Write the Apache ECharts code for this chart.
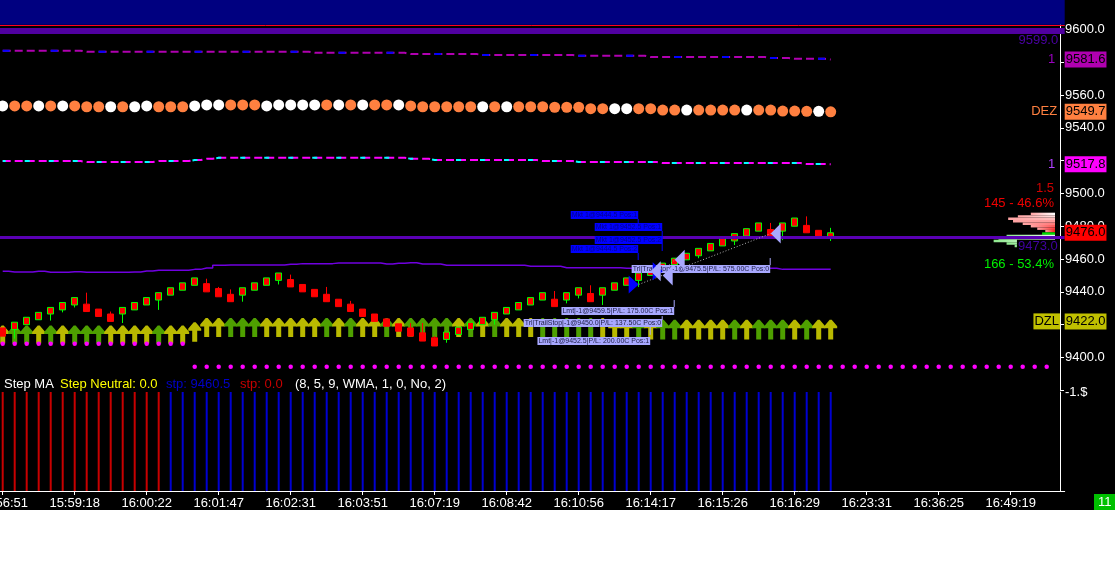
<!DOCTYPE html>
<html><head><meta charset="utf-8">
<script src="https://cdn.jsdelivr.net/npm/echarts@6/dist/echarts.min.js"></script>
<style>html,body{margin:0;padding:0;background:#fff;}#c{width:1115px;height:510px;}</style>
</head><body><div id="c"></div>
<script>
// ---------------- data ----------------
const timeLabels = ['15:56:51','15:59:18','16:00:22','16:01:47','16:02:31','16:03:51','16:07:19','16:08:42','16:10:56','16:14:17','16:15:26','16:16:29','16:23:31','16:36:25','16:49:19'];
// [open, close, low, high]
const candles = [
[9418,9413,9413,9418],[9417,9421.5,9411.5,9421.5],[9420,9424.5,9420,9424.5],[9423,9427.5,9423,9427.5],
[9426.5,9430.5,9422.5,9430.5],[9429,9433.5,9427.5,9433.5],[9432,9436.5,9430.5,9436.5],[9432.5,9428,9428,9439.5],
[9429.5,9425,9425,9429.5],[9426.5,9422,9422,9428],[9426.5,9430.5,9421,9430.5],[9429,9433.5,9429,9433.5],
[9432,9436.5,9432,9436.5],[9435,9439.5,9429,9439.5],[9438,9442.5,9438,9442.5],[9441,9445.5,9441,9445.5],
[9444,9448.5,9444,9448.5],[9445,9440,9440,9448],[9442,9437,9437,9443],[9438.5,9434,9434,9441.5],
[9438,9442.5,9434,9442.5],[9441,9445.5,9441,9445.5],[9444,9448.5,9444,9448.5],[9447,9451.5,9444.5,9451.5],
[9447.5,9443,9443,9450.5],[9444.5,9440,9440,9444.5],[9441.5,9437,9437,9441.5],[9438.5,9434,9434,9443],
[9435.5,9431,9431,9435.5],[9432.5,9428,9428,9434.5],[9429.5,9425,9425,9429.5],[9426.5,9422,9422,9426.5],
[9423.5,9419,9419,9423.5],[9420.5,9416,9416,9420.5],[9418,9413,9413,9421],[9415,9410,9410,9421],
[9412,9407,9407,9413],[9411,9415.5,9409,9415.5],[9414,9418.5,9414,9418.5],[9417,9421.5,9417,9421.5],
[9420,9424.5,9420,9424.5],[9423,9427.5,9420,9427.5],[9426.5,9430.5,9426.5,9430.5],[9429,9433.5,9429,9433.5],
[9432,9436.5,9432,9436.5],[9435,9439.5,9435,9439.5],[9435.5,9431,9431,9440.5],[9435,9439.5,9433,9439.5],
[9438,9442.5,9436,9442.5],[9439,9434,9434,9444],[9438,9442.5,9432,9442.5],[9441,9445.5,9441,9445.5],
[9444,9448.5,9444,9448.5],[9447,9451.5,9443,9451.5],[9450,9454.5,9450,9454.5],[9453,9457.5,9453,9457.5],
[9456.5,9460.5,9456.5,9460.5],[9459.5,9463.5,9459.5,9463.5],[9462,9466.5,9460.5,9466.5],[9465,9469.5,9465,9469.5],
[9468,9472.5,9468,9472.5],[9471,9475.5,9468.5,9475.5],[9474,9478.5,9474,9478.5],[9477,9482,9477,9482],
[9478,9473.5,9473.5,9482],[9477,9482,9471.5,9482],[9480,9485,9480,9485],[9480.5,9476,9476,9486],
[9477.5,9473.5,9473.5,9477.5],[9472.5,9476,9471,9479]
];
const stepLine = [9452.6,9452.1,9452.1,9452.6,9451.9,9451.9,9452.3,9451.9,9451.9,9451.9,9451.9,9452.1,9452.7,9453.1,9453.1,9453.1,9453.7,9454.5,9456.2,
9456.4,9456.4,9456.4,9456.4,9456.4,9456.8,9457.2,9457.2,9457.2,9457.6,9457.6,9457.6,9457.6,9457.0,9457.4,9457.8,9457.0,9457.0,
9456.2,9456.2,9456.2,9456.2,9456.2,9456.2,9456.2,9455.6,9455.6,9455.6,9454.7,9454.7,9454.7,9454.7,9454.7,
9454.4,9454.4,9454.4,9454.4,9454.4,9454.4,9454.4,9454.4,9454.4,9454.4,9454.4,9454.4,9454.4,9453.7,9453.7,9453.7,9453.7,9453.7];
const upperBand = [9587.0,9587.0,9587.0,9587.0,9587.0,9587.0,9587.0,
9586.3,9586.3,9586.3,9586.3,9586.3,9586.3,9586.3,9586.3,9586.3,9586.3,9586.3,9586.3,9586.3,9586.3,9586.3,9586.3,9586.3,9586.3,9586.3,
9585.7,9585.7,9585.7,9585.7,9585.7,9585.7,9585.7,9585.7,
9584.9,9584.9,9584.9,9584.9,9584.9,9584.9,
9584.3,9584.3,9584.3,9584.3,9584.3,9584.3,9584.3,9584.3,
9583.9,9583.9,9583.9,9583.9,9583.9,9583.9,
9583.1,9583.1,9583.1,9583.1,9583.1,9583.1,9583.1,9583.1,9583.1,9583.1,
9582.5,9582.5,9582.0,9582.0,9582.0,9581.6];
const lowerBand = [9519.7,9519.7,9519.7,9519.7,9519.7,9519.7,9519.7,
9519.1,9519.1,9519.1,9519.1,9519.1,9519.1,9519.7,9519.7,9519.7,9520.3,9521.1,
9521.7,9521.7,9521.7,9521.7,9521.7,9521.7,9521.7,9521.7,9521.7,9521.7,9521.7,9521.7,9521.7,9521.7,9521.7,9521.7,
9521.1,9521.1,9520.3,9520.3,9520.3,9520.3,9520.3,9520.3,9520.3,9520.3,9520.3,9519.7,9519.7,9519.7,
9519.1,9519.1,9519.1,9519.1,9519.1,9519.1,9519.1,
9518.5,9518.5,9518.5,9518.5,9518.5,9518.5,9518.5,9518.5,9518.5,9518.5,9518.5,9518.5,9517.9,9517.9,9517.8];
const dezDots = [9553.3,9553.3,9553.3,9553.3,9553.3,9553.3,9553.3,9552.8,9552.8,9552.8,9552.8,9552.8,9553.3,9552.8,9552.8,9552.8,9553.3,
9553.9,9553.9,9553.9,9553.9,9553.9,9553.3,9553.9,9553.9,9553.9,9553.9,9553.9,9553.9,9553.9,9553.9,9553.9,9553.9,9553.9,
9553.3,9552.8,9552.8,9552.8,9552.8,9552.8,9552.8,9552.8,9552.8,9552.8,9552.8,9552.8,9552.5,9552.5,9552.5,
9551.6,9551.6,9551.6,9551.6,9551.6,9551.6,9550.8,9550.8,9550.8,9550.8,9550.8,9550.8,9550.8,9550.8,9550.8,9550.8,
9550.2,9550.2,9550.0,9550.0,9549.7];
const dezWhite = [1,0,0,1,0,1,0,0,0,1,0,1,1,0,0,0,1,1,1,0,0,0,1,1,1,1,1,0,1,0,1,0,0,1,
0,0,0,0,0,0,1,0,1,0,0,0,0,0,0,0,0,1,1,0,0,0,0,1,0,0,0,0,1,0,0,0,0,0,1,0];
const arrowTop = [9419.5,9419.5,9419.5,9419.5,9419.5,9419.5,9419.5,9419.5,9419.5,9419.5,9419.5,9419.5,9419.5,9419.5,9419.5,9419.5,9421.4,
9424,9424,9424,9424,9424,9424,9424,9424,9424,9424,9424,9424,9424,9424,9424,9424,9424,
9424,9424,9424,9424,9424,9424,9424,9424,9424,9424,9424,9424,9424,9424,9424,9424,9424,
9423,9423,9423,9423,9423,9423,9423,9423,9423,9423,9423,9423,9423,9423,9423,9423,9423,9423,9423];
const arrowBottom = [9408.5,9408.5,9408.5,9408.5,9408.5,9408.5,9408.5,9408.5,9408.5,9408.5,9408.5,9408.5,9408.5,9408.5,9408.5,9408.5,9409.6,
9412.5,9412.5,9412.5,9412.5,9412.5,9412.5,9412.5,9412.5,9412.5,9412.5,9412.5,9412.5,9412.5,9412.5,9412.5,9412.5,9412.5,
9412.5,9412.5,9412.5,9412.5,9412.5,9412.5,9412.5,9412.5,9412.5,9412.5,9412.5,9412.5,9412.5,9412.5,9412.5,9412.5,9412.5,
9411,9411,9411,9411,9411,9411,9411,9411,9411,9411,9411,9411,9411,9411,9411,9411,9411,9411,9411];
const arrowGreen = [0,1,1,0,1,0,1,1,1,0,0,0,0,1,0,0,0,0,0,1,1,1,0,0,0,0,0,1,0,1,0,0,1,0,
1,1,1,1,0,1,0,1,0,0,0,1,1,1,1,1,0,0,0,1,0,1,1,0,0,0,0,1,0,1,1,1,0,1,0,0];
const stopDots = [9408.3,9408.3,9408.3,9408.3,9408.3,9408.3,9408.3,9408.3,9408.3,9408.3,9408.3,9408.3,9408.3,9408.3,9408.3,9408.3,
9394.4,9394.4,9394.4,9394.4,9394.4,9394.4,9394.4,9394.4,9394.4,9394.4,9394.4,9394.4,
9394.4,9394.4,9394.4,9394.4,9394.4,9394.4,9394.4,9394.4,9394.4,9394.4,9394.4,9394.4,
9394.4,9394.4,9394.4,9394.4,9394.4,9394.4,9394.4,9394.4,9394.4,9394.4,9394.4,9394.4,
9394.4,9394.4,9394.4,9394.4,9394.4,9394.4,9394.4,9394.4,9394.4,9394.4,9394.4,9394.4,
9394.4,9394.4,9394.4,9394.4,9394.4,9394.4,9394.4,9394.4,9394.4,9394.4,9394.4,9394.4,
9394.4,9394.4,9394.4,9394.4,9394.4,9394.4,9394.4,9394.4,9394.4,9394.4,9394.4,9394.4];
const stepDir = [-1,-1,-1,-1,-1,-1,-1,-1,-1,-1,-1,-1,-1,-1,
1,1,1,1,1,1,1,1,1,1,1,1,1,1,1,1,1,1,1,1,1,1,1,1,1,1,1,1,1,1,1,1,1,1,1,1,1,1,1,1,1,1,1,1,1,1,1,1,1,1,1,1,1,1,1,1];
const entries = [[53,9444.5],[55,9452.5]];
const exits = [[54,9452.5],[55,9450.0],[56,9459.5],[64,9475.5]];
const tradeLines = [[[53,9444.5],[64,9475.5]],[[55,9452.5],[56,9459.5]]];
const orderText = ['Mkt 1@9444.5 Pos:1','Mkt 1@9452.5 Pos:1','Mkt 1@9452.5 Pos:2','Mkt 1@9444.5 Pos:2',
'Trl|TrailStop|-1@9475.5|P/L: 575.00C Pos:0','Lmt|-1@9459.5|P/L: 175.00C Pos:1',
'Trl|TrailStop|-1@9450.0|P/L: 137.50C Pos:0','Lmt|-1@9452.5|P/L: 200.00C Pos:1'];
const orderBar = [53,55,55,53,64,56,55,54];
const orderPrice = [9486.8,9479.5,9471.6,9466.1,9453.9,9428.3,9421.0,9410.0];
const orderKind = ['entry','entry','entry','entry','exit','exit','exit','exit'];
const connectors = [[53,9484.4,9482.0,'entry'],[55,9477.1,9464.9,'entry'],[53,9463.7,9459.4,'entry'],
[64,9460.6,9456.3,'exit'],[56,9435.0,9430.8,'exit'],[55,9425.2,9422.8,'exit'],[54,9418.7,9413.8,'exit']];
const depthStep = 1.5;
const askPrices = [9477.0,9478.5,9480.0,9481.5,9483.0,9484.5,9486.0,9487.5];
const askSizes = [6,11,15,20,26,29,23,15];
const bidPrices = [9475.5,9474.0,9472.5,9471.0,9469.5,9468.0];
const bidSizes = [8,30,35,38,30,25];
const tagValues = [9581.6,9549.7,9517.8,9476.0,9422.0];
const tagNames = ['1','DEZ','1','','DZL'];
const navyFrom = 9602.8, redLevel = 9602.6, bandLevel = 9599.0, positionLevel = 9473.0;
const stepHeader = ['Step MA','Step Neutral: 0.0','stp: 9460.5','stp: 0.0','(8, 5, 9, WMA, 1, 0, No, 2)'];
const lowerAxisText = '-1.$';
const barsLeft = '11';

// ---------------- chart ----------------
const FONT = 'Liberation Sans';
const N = 89;
const cats = Array.from({length: N}, (_, k) => String(k));
const GL = -3.3, GW = 1068, AXOFF = -4.7;
const PTOP = -3.5, PH = 393.8;
const hiddenTicks = [9380, 9420, 9520, 9580];
const CLEAR = 'rgba(0,0,0,0)';

function mix(c1, c2, t) {
  const a = parseInt(c1.slice(1), 16), b = parseInt(c2.slice(1), 16);
  const ch = s => Math.round(((a >> s) & 255) * (1 - t) + ((b >> s) & 255) * t);
  return 'rgb(' + ch(16) + ',' + ch(8) + ',' + ch(0) + ')';
}

const tagBg = ['#b000b0', '#ff8040', '#ff00ff', '#ff0000', '#c0c000'];
const nameColor = ['#9a00c0', '#ff8040', '#b040ff', '#000', '#000'];
const nameDist = [9.5, 7.5, 9.5, 0, 4.7];

const markLines = [
  {yAxis: redLevel, lineStyle: {color: '#ff0020', width: 1, type: 'solid'}, label: {show: false}},
  {yAxis: bandLevel, lineStyle: {color: '#5000a0', width: 6, type: 'solid'},
   label: {show: true, position: 'insideEndBottom', distance: [6.5, 2.5], formatter: bandLevel.toFixed(1), color: '#4c00a8', fontSize: 13, fontFamily: FONT}},
  {yAxis: positionLevel, lineStyle: {color: '#5a00b4', width: 3, type: 'solid'},
   label: {show: true, position: 'insideEndBottom', distance: [6, 2], formatter: positionLevel.toFixed(1), color: '#4000a0', backgroundColor: '#000', padding: [0, 1], lineHeight: 13, fontSize: 13, fontFamily: FONT}}
];
tagValues.forEach((v, k) => {
  markLines.push({yAxis: v, lineStyle: {color: CLEAR, width: 1, type: 'solid', opacity: 1},
    label: {show: true, opacity: 1, position: 'end', distance: [0, 0], formatter: v.toFixed(1), color: '#000', backgroundColor: tagBg[k],
      padding: [1, 1, 1, 1], lineHeight: 14, fontSize: 13, fontFamily: FONT}});
  if (tagNames[k]) {
    const boxed = tagNames[k] === 'DZL';
    markLines.push({yAxis: v, lineStyle: {color: CLEAR, width: 1, type: 'solid', opacity: 1},
      label: Object.assign({show: true, opacity: 1, position: 'insideEnd', distance: [nameDist[k], 0], formatter: tagNames[k],
        color: nameColor[k], fontSize: 13, fontFamily: FONT},
        boxed ? {backgroundColor: tagBg[k], padding: [1, 1, 1, 1], lineHeight: 14} : {})});
  }
});

const askTotal = askSizes.reduce((a, b) => a + b, 0);
const bidTotal = bidSizes.reduce((a, b) => a + b, 0);
const askPct = (askTotal / (askTotal + bidTotal) * 100).toFixed(1);
const bidPct = (bidTotal / (askTotal + bidTotal) * 100).toFixed(1);

const depthData = askPrices.map((p, k) => [p, askSizes[k], 0, k]).concat(bidPrices.map((p, k) => [p, bidSizes[k], 1, k]));

const headerLeft = [4, 60, 166, 240, 295];
const headerColor = ['#ffffff', '#ffff00', '#0000c8', '#c80000', '#ffffff'];

const option = {
  animation: false,
  backgroundColor: '#000',
  textStyle: {fontFamily: FONT},
  title: stepHeader.map((t, k) => ({text: t, left: headerLeft[k], top: 378, padding: 0,
    textStyle: {color: headerColor[k], fontSize: 13, fontWeight: 'normal', fontFamily: FONT}})),
  grid: [
    {left: GL, width: GW, top: PTOP, height: PH, outerBoundsMode: 'none', containLabel: false},
    {left: GL, width: GW, top: 392, height: 99, outerBoundsMode: 'none', containLabel: false},
    {left: 900, width: 155, top: PTOP, height: PH, outerBoundsMode: 'none', containLabel: false}
  ],
  xAxis: [
    {type: 'category', gridIndex: 0, data: cats, boundaryGap: true, show: false},
    {type: 'category', gridIndex: 1, data: cats, boundaryGap: true,
      axisLine: {show: true, lineStyle: {color: '#fff', width: 1}},
      axisTick: {show: true, alignWithLabel: true, length: 4, interval: (i) => i % 6 === 0, lineStyle: {color: '#fff'}},
      axisLabel: {show: true, interval: (i) => i % 6 === 0, formatter: (v, i) => (i % 6 === 0 ? (timeLabels[i / 6] || '') : ''),
        color: '#fff', fontSize: 13, margin: 6, fontFamily: FONT},
      splitLine: {show: false}},
    {type: 'value', gridIndex: 2, inverse: true, min: 0, max: 96, show: false}
  ],
  yAxis: [
    {type: 'value', gridIndex: 0, position: 'right', offset: AXOFF, min: 9380, max: 9620, interval: 20,
      axisLine: {show: true, lineStyle: {color: '#fff', width: 1}},
      axisTick: {show: true, length: 4, lineStyle: {color: '#fff'}},
      axisLabel: {color: '#fff', fontSize: 13, margin: 5, fontFamily: FONT,
        formatter: (v) => (hiddenTicks.indexOf(Math.round(v)) >= 0 ? '' : v.toFixed(1))},
      splitLine: {show: false}},
    {type: 'value', gridIndex: 1, position: 'right', offset: AXOFF, min: 0, max: 1, interval: 1,
      axisLine: {show: true, lineStyle: {color: '#fff', width: 1}},
      axisTick: {show: false},
      axisLabel: {color: '#fff', fontSize: 13, margin: 5, fontFamily: FONT, formatter: (v) => (v === 1 ? lowerAxisText : '')},
      splitLine: {show: false}},
    {type: 'value', gridIndex: 2, min: 9380, max: 9620, show: false}
  ],
  series: [
    // upper dashed band
    {type: 'line', xAxisIndex: 0, yAxisIndex: 0, data: upperBand, step: 'middle', showSymbol: false, z: 2,
      lineStyle: {color: '#b000b0', width: 2, type: [8, 4]}},
    {type: 'line', xAxisIndex: 0, yAxisIndex: 0, data: upperBand, step: 'middle', showSymbol: false, z: 2,
      lineStyle: {color: '#0000ff', width: 2, type: [7, 41], dashOffset: 0}},
    // lower dashed band
    {type: 'line', xAxisIndex: 0, yAxisIndex: 0, data: lowerBand, step: 'middle', showSymbol: false, z: 2,
      lineStyle: {color: '#ff00ff', width: 2, type: [8, 4]}},
    {type: 'line', xAxisIndex: 0, yAxisIndex: 0, data: lowerBand, step: 'middle', showSymbol: false, z: 2,
      lineStyle: {color: '#00ffff', width: 2, type: [5, 19], dashOffset: 2}},
    // DEZ dots
    {type: 'scatter', xAxisIndex: 0, yAxisIndex: 0, data: dezDots.map((v, i) => [i, v]), symbol: 'circle', symbolSize: 11, z: 2,
      itemStyle: {opacity: 1, color: (p) => (dezWhite[p.dataIndex] ? '#ffffff' : '#ff8040')}},
    // thin purple step line + levels
    {type: 'line', xAxisIndex: 0, yAxisIndex: 0, data: stepLine, step: 'middle', showSymbol: false, z: 3,
      lineStyle: {color: '#7000e0', width: 1.5},
      markArea: {silent: true, itemStyle: {color: '#000080', opacity: 1}, data: [[{yAxis: navyFrom}, {yAxis: 9620}]]},
      markLine: {silent: true, symbol: 'none', animation: false, data: markLines}},
    // step MA arrows
    {type: 'custom', xAxisIndex: 0, yAxisIndex: 0, z: 3,
      data: arrowTop.map((t, i) => [i, t, arrowBottom[i], arrowGreen[i]]),
      encode: {x: 0, y: [1, 2]},
      renderItem: function (params, api) {
        const i = api.value(0);
        const top = api.coord([i, api.value(1)]);
        const bot = api.coord([i, api.value(2)]);
        const x = top[0], yt = top[1], yb = bot[1];
        const hw = 6.5, hh = 8.5, sw = 2.5;
        return {type: 'polygon', shape: {points: [[x - 1, yt], [x + 1, yt], [x + hw, yt + hh - 2], [x + hw, yt + hh], [x + sw, yt + hh], [x + sw, yb], [x - sw, yb], [x - sw, yt + hh], [x - hw, yt + hh], [x - hw, yt + hh - 2]]},
          style: {fill: api.value(3) === 1 ? '#4ea000' : '#b9b900'}};
      }},
    // stop dots
    {type: 'scatter', xAxisIndex: 0, yAxisIndex: 0, data: stopDots.map((v, i) => [i, v]), symbol: 'circle', symbolSize: 4.5, z: 4,
      itemStyle: {color: '#ff00ff', opacity: 1}},
    // candles
    {type: 'candlestick', xAxisIndex: 0, yAxisIndex: 0, data: candles, barWidth: 7, z: 4,
      itemStyle: {color: '#ff0000', color0: '#ff0000', borderColor: '#00ff00', borderColor0: '#ff0000', borderWidth: 1}},
    // trade connection dotted lines
    ...tradeLines.map(seg => ({type: 'line', xAxisIndex: 0, yAxisIndex: 0, data: seg, showSymbol: false, z: 6,
      lineStyle: {color: '#b4b4b4', width: 1, type: [1, 2]}})),
    // order label connectors
    {type: 'custom', xAxisIndex: 0, yAxisIndex: 0, z: 6, data: connectors,
      encode: {x: 0, y: [1, 2]},
      renderItem: function (params, api) {
        const a = api.coord([api.value(0), api.value(1)]);
        const b = api.coord([api.value(0), api.value(2)]);
        const kind = connectors[params.dataIndex][3];
        return {type: 'line', shape: {x1: a[0] - 0.5, y1: a[1], x2: b[0] - 0.5, y2: b[1]},
          style: {stroke: kind === 'entry' ? '#0000ff' : '#a8a8ff', lineWidth: 1}};
      }},
    // order labels
    {type: 'scatter', xAxisIndex: 0, yAxisIndex: 0, z: 6, symbol: 'rect', symbolSize: 1,
      itemStyle: {color: CLEAR, opacity: 1},
      data: orderText.map((t, k) => ({value: [orderBar[k], orderPrice[k]],
        label: {show: true, position: 'left', distance: 0, formatter: t, fontSize: 7, lineHeight: 8, padding: [0, 1],
          fontFamily: FONT, opacity: 1,
          color: orderKind[k] === 'entry' ? '#000090' : '#202048',
          backgroundColor: orderKind[k] === 'entry' ? '#0000ff' : '#a8a8ff'}}))},
    // entry / exit triangles
    {type: 'scatter', xAxisIndex: 0, yAxisIndex: 0, z: 7, data: entries, symbol: 'triangle', symbolSize: [18, 10],
      symbolRotate: -90, symbolOffset: [-5, 0], itemStyle: {color: '#0000ff', opacity: 1}},
    {type: 'scatter', xAxisIndex: 0, yAxisIndex: 0, z: 7, data: exits, symbol: 'triangle', symbolSize: [20, 10],
      symbolRotate: 90, symbolOffset: [5, 0], itemStyle: {color: '#a8a8ff', opacity: 1}},
    // lower pane step MA bars
    {type: 'bar', xAxisIndex: 1, yAxisIndex: 1, barWidth: 2, z: 2,
      data: stepDir.map(d => ({value: 1, itemStyle: {color: d < 0 ? '#c80000' : '#0000d0'}}))},
    // depth bars
    {type: 'custom', xAxisIndex: 2, yAxisIndex: 2, z: 3, data: depthData, encode: {x: 1, y: 0},
      renderItem: function (params, api) {
        const p = api.value(0), s = api.value(1), side = api.value(2), rank = api.value(3);
        const a = api.coord([s, p + depthStep / 2]);
        const b = api.coord([0, p - depthStep / 2]);
        const x = Math.min(a[0], b[0]), w = Math.abs(b[0] - a[0]);
        const y = Math.min(a[1], b[1]), h = Math.abs(b[1] - a[1]);
        let fill;
        if (side === 0) {
          const t = rank / (askPrices.length - 1);
          fill = new echarts.graphic.LinearGradient(0, 0, 1, 0, [{offset: 0, color: '#ffa4a4'}, {offset: 1, color: mix('#ff1414', '#ffffff', t)}]);
        } else if (rank === 0) {
          fill = '#00e000';
        } else {
          fill = new echarts.graphic.LinearGradient(0, 0, 1, 0, [{offset: 0, color: '#8ee88e'}, {offset: 1, color: '#f0fff0'}]);
        }
        return {type: 'rect', shape: {x: x, y: y, width: w, height: h}, style: {fill: fill}};
      }}
  ],
  graphic: [
    {type: 'text', x: 1054, y: 188, z: 10, style: {text: String(depthStep), fill: '#d00000', font: '13px "Liberation Sans"', align: 'right', verticalAlign: 'middle'}},
    {type: 'text', x: 1054, y: 203, z: 10, style: {text: askTotal + ' - ' + askPct + '%', fill: '#f00000', font: '13px "Liberation Sans"', align: 'right', verticalAlign: 'middle'}},
    {type: 'text', x: 1054, y: 264, z: 10, style: {text: bidTotal + ' - ' + bidPct + '%', fill: '#00f000', font: '13px "Liberation Sans"', align: 'right', verticalAlign: 'middle'}},
    {type: 'rect', x: 1094, y: 494, z: 10, shape: {width: 21, height: 16}, style: {fill: '#00c000'}},
    {type: 'text', x: 1098, y: 502, z: 11, style: {text: barsLeft, fill: '#ffffff', font: '13px "Liberation Sans"', align: 'left', verticalAlign: 'middle'}}
  ]
};

const chart = echarts.init(document.getElementById('c'));
chart.setOption(option);
</script>
</body></html>
